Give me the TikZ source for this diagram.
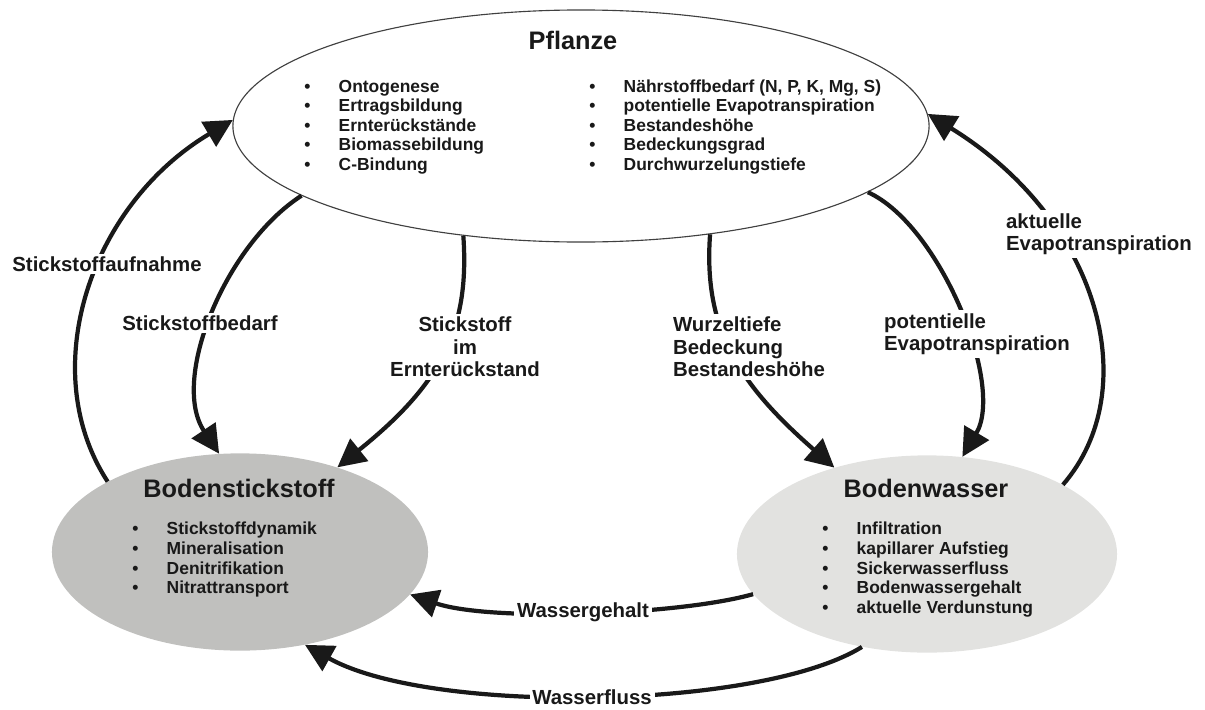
\documentclass[tikz,border=0pt]{standalone}
\usepackage{fontspec}
\setmainfont{Liberation Sans}
\usetikzlibrary{shapes.geometric, arrows.meta}

\definecolor{bodenN}{RGB}{192,192,190}
\definecolor{bodenW}{RGB}{226,226,224}
\definecolor{tinte}{RGB}{25,25,25}

\newcommand{\itm}[1]{\makebox[24.5pt][l]{\textbullet}#1}

\tikzset{
    kreis/.style={shape=ellipse, inner sep=0pt},
    titel/.style={font=\bfseries\fontsize{18}{20}\selectfont, text=tinte, anchor=base},
    item/.style={font=\bfseries\fontsize{12.4}{14}\selectfont, text=tinte, anchor=base west, inner sep=0pt},
    beschr/.style={font=\bfseries\fontsize{14.5}{16}\selectfont, text=tinte, fill=white, inner sep=2pt},
    pfeil/.style={line width=3pt, draw=tinte, -{Triangle[length=20pt, width=20pt]}},
}

\begin{document}
\begin{tikzpicture}[x=0.025cm, y=-0.025cm]
    \useasboundingbox (0, 0) rectangle (1205, 710);

    % Ellipsen
    \node (pfl) at (581, 126) [kreis, draw=black!75, line width=0.8pt, fill=white, minimum width=17.4cm, minimum height=5.8cm] {};
    \node (bst) at (240, 552) [kreis, fill=bodenN, minimum width=9.4cm, minimum height=4.93cm] {};
    \node (bwa) at (927, 554) [kreis, fill=bodenW, minimum width=9.5cm, minimum height=4.93cm] {};

    \node (tpfl) at (573, 50) [titel] {Pflanze};
    \node (tbst) at (239, 497) [titel] {Bodenstickstoff};
    \node (tbwa) at (926, 497) [titel] {Bodenwasser};

    % Listen
    \foreach \txt [count=\i] in {Ontogenese, Ertragsbildung, Ernterückstände, Biomassebildung, C-Bindung}
        \node (pl\i) at (304, 72.5+19.5*\i) [item] {\itm{\txt}};
    \foreach \txt [count=\i] in {{Nährstoffbedarf (N, P, K, Mg, S)}, potentielle Evapotranspiration, Bestandeshöhe, Bedeckungsgrad, Durchwurzelungstiefe}
        \node (pr\i) at (589, 72.5+19.5*\i) [item] {\itm{\txt}};
    \foreach \txt [count=\i] in {Stickstoffdynamik, Mineralisation, Denitrifikation, Nitrattransport}
        \node (bn\i) at (132, 514.7+19.8*\i) [item] {\itm{\txt}};
    \foreach \txt [count=\i] in {Infiltration, kapillarer Aufstieg, Sickerwasserfluss, Bodenwassergehalt, aktuelle Verdunstung}
        \node (bw\i) at (822, 514.7+19.8*\i) [item] {\itm{\txt}};

    % Pfeile
    \draw[pfeil] (bst.152) .. controls (35, 370) and (90, 205) .. (pfl.179);
    \draw[pfeil] (pfl.194) .. controls (225, 245) and (170, 380) .. (bst.102);
    \draw[pfeil] (pfl.223) .. controls (470, 330) and (440, 385) .. (bst.41);
    \draw[pfeil] (pfl.-40) .. controls (703, 330) and (740, 385) .. (bwa.137);
    \draw[pfeil] (pfl.-13) .. controls (940, 225) and (1005, 385) .. (bwa.70);
    \draw[pfeil] (bwa.27) .. controls (1145, 390) and (1100, 220) .. (pfl.2);
    \draw[pfeil] (bwa.193) .. controls (680, 615) and (490, 622) .. (bst.-14);
    \draw[pfeil] (bwa.235) .. controls (760, 710) and (430, 715) .. (bst.-55);

    % Beschriftungen
    \node (l1) at (107, 264) [beschr] {Stickstoffaufnahme};
    \node (l2) at (200, 323) [beschr] {Stickstoffbedarf};
    \node (l3) at (465, 347) [beschr, align=center] {Stickstoff\\im\\Ernterückstand};
    \node (l4) at (670, 347) [beschr, align=left, anchor=west] {Wurzeltiefe\\Bedeckung\\Bestandeshöhe};
    \node (l5) at (881, 334) [beschr, align=left, anchor=west] {potentielle\\Evapotranspiration};
    \node (l6) at (1003, 234) [beschr, align=left, anchor=west] {aktuelle\\Evapotranspiration};
    \node (l7) at (583, 612) [beschr] {Wassergehalt};
    \node (l8) at (592, 697) [beschr] {Wasserfluss};
\end{tikzpicture}
\end{document}
